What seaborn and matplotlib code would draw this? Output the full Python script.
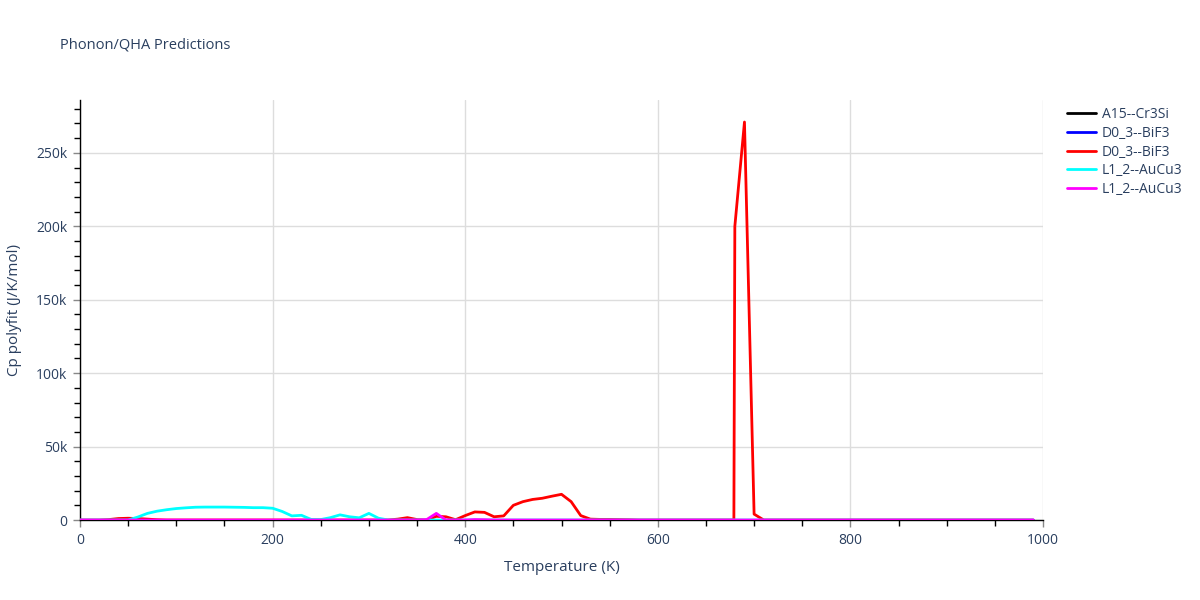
#!/usr/bin/env python3
"""Phonon/QHA predictions: Cp polyfit vs temperature."""

import numpy as np
import pandas as pd
import matplotlib
matplotlib.use("Agg")
import matplotlib.pyplot as plt
from matplotlib.ticker import MultipleLocator, FuncFormatter
import seaborn as sns

# temperature grid (K)
temps = list(range(0, 1000, 10))  # 0 .. 990

# Cp polyfit values (J/K/mol) in thousands
a15_cr3si = [0.0] * 100
d03_bif3_a = [0.0] * 100

d03_bif3_b = [0.0] * 100
red_points = {
    30: 0.3, 40: 1.0, 50: 1.2, 60: 1.0, 70: 0.6, 80: 0.2,
    330: 0.6, 340: 1.6, 350: 0.3,
    370: 2.5, 380: 2.2, 390: 0.2, 400: 3.0, 410: 5.5, 420: 5.2,
    430: 2.2, 440: 2.8, 450: 10.0, 460: 12.5, 470: 14.0, 480: 14.8,
    490: 16.2, 500: 17.5, 510: 12.5, 520: 3.0, 530: 0.6, 540: 0.4,
    550: 0.4, 560: 0.3, 570: 0.2,
    680: 200.0, 690: 271.0, 700: 4.0,
}
# the red curve shoots straight up just before 680 K
red_extra_t = [679]
red_extra_v = [0.0]

l12_aucu3_a = [0.0] * 100
cyan_points = {
    60: 2.0, 70: 4.5, 80: 6.0, 90: 7.0, 100: 7.8, 110: 8.3, 120: 8.7,
    130: 8.8, 140: 8.8, 150: 8.8, 160: 8.7, 170: 8.6, 180: 8.4, 190: 8.4,
    200: 8.0, 210: 5.8, 220: 2.8, 230: 3.2, 240: 0.4, 250: 0.3,
    260: 1.6, 270: 3.5, 280: 2.2, 290: 1.5, 300: 4.5, 310: 1.2,
}

l12_aucu3_b = [0.0] * 100
magenta_points = {360: 0.3, 370: 4.5, 410: 0.3, 420: 0.2}

for t, v in red_points.items():
    d03_bif3_b[t // 10] = v
for t, v in cyan_points.items():
    l12_aucu3_a[t // 10] = v
for t, v in magenta_points.items():
    l12_aucu3_b[t // 10] = v

series_names = ["A15--Cr3Si", "D0_3--BiF3", "D0_3--BiF3", "L1_2--AuCu3", "L1_2--AuCu3"]
series_values = [a15_cr3si, d03_bif3_a, d03_bif3_b, l12_aucu3_a, l12_aucu3_b]
series_colors = ["black", "blue", "red", "cyan", "magenta"]

TEXT = "#2a3f5f"

sns.set_theme(style="white")
plt.rcParams["font.family"] = ["Open Sans", "DejaVu Sans"]

fig = plt.figure(figsize=(12, 6), dpi=100)
ax = fig.add_axes([80 / 1200, 80 / 600, 963 / 1200, 420 / 600])

for i, (name, vals, color) in enumerate(zip(series_names, series_values, series_colors)):
    df = pd.DataFrame({"T": temps, "Cp": np.array(vals) * 1000})
    if i == 2:
        extra = pd.DataFrame({"T": red_extra_t, "Cp": np.array(red_extra_v) * 1000})
        df = pd.concat([df, extra]).sort_values("T")
    sns.lineplot(data=df, x="T", y="Cp", color=color, linewidth=2,
                 label=name, ax=ax, zorder=3, sort=False)

ax.set_xlim(0, 1000)
ax.set_ylim(0, 286000)

ax.xaxis.set_major_locator(MultipleLocator(200))
ax.xaxis.set_minor_locator(MultipleLocator(50))
ax.yaxis.set_major_locator(MultipleLocator(50000))
ax.yaxis.set_minor_locator(MultipleLocator(10000))
ax.yaxis.set_major_formatter(FuncFormatter(lambda v, p: "0" if v == 0 else f"{int(v / 1000)}k"))

ax.grid(True, which="major", color="#dddddd", linewidth=1, zorder=0)
ax.set_axisbelow(True)

for side in ["top", "right"]:
    ax.spines[side].set_visible(False)
for side in ["left", "bottom"]:
    ax.spines[side].set_color("black")
    ax.spines[side].set_linewidth(1)

ax.tick_params(axis="both", which="major", direction="out", length=5, width=1,
               color="#888888", labelsize=10, labelcolor=TEXT, pad=4,
               bottom=True, left=True)
ax.tick_params(axis="both", which="minor", direction="out", length=4, width=1,
               color="black", bottom=True, left=True)

ax.set_xlabel("Temperature (K)", fontsize=11, color=TEXT, labelpad=9)
ax.set_ylabel("Cp polyfit (J/K/mol)", fontsize=11, color=TEXT, labelpad=10)

fig.text(60 / 1200, 1 - 45 / 600, "Phonon/QHA Predictions", fontsize=10.5,
         color=TEXT, va="center", ha="left")

leg = ax.legend(loc="upper left", bbox_to_anchor=(1067 / 1200, 1 - 107 / 600),
                bbox_transform=fig.transFigure, borderpad=0, borderaxespad=0,
                frameon=False, fontsize=10, labelcolor=TEXT, handlelength=2.1,
                handletextpad=0.4, labelspacing=0.27)

fig.savefig("out.png", dpi=100)
